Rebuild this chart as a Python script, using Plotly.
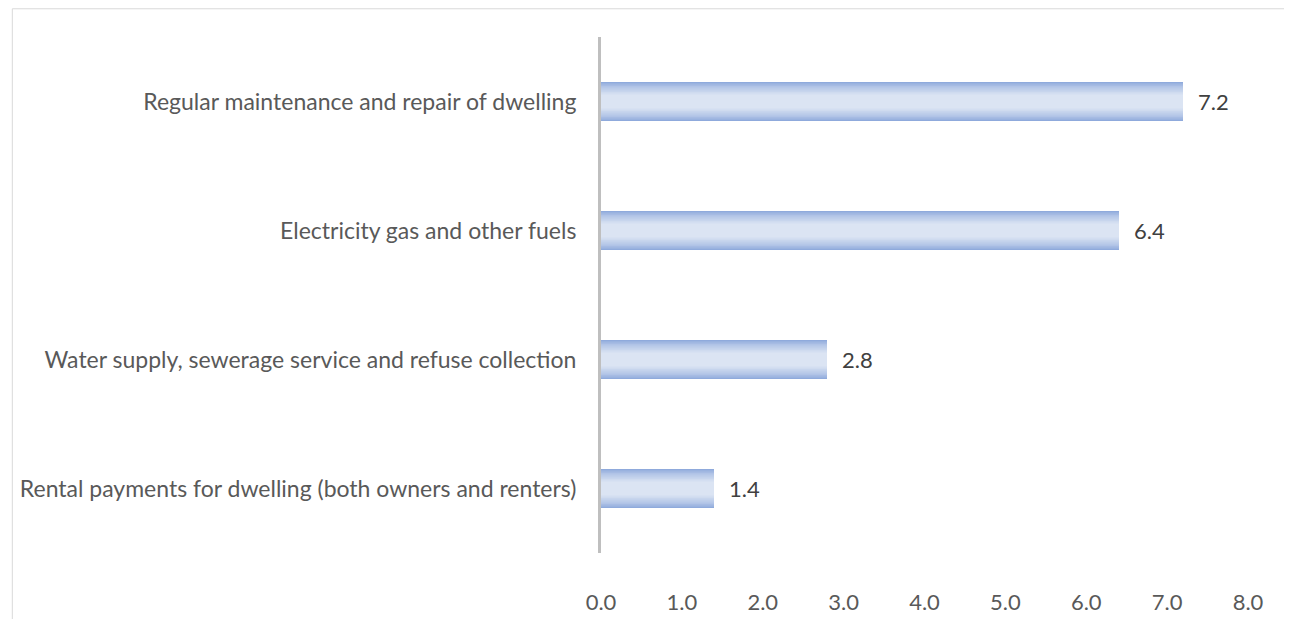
import plotly.graph_objects as go

categories = [
    "Regular maintenance and repair of dwelling",
    "Electricity gas and other fuels",
    "Water supply, sewerage service and refuse collection",
    "Rental payments for dwelling (both owners and renters)",
]
values = [7.2, 6.4, 2.8, 1.4]
x_ticks = [0, 1, 2, 3, 4, 5, 6, 7, 8]
x_tick_labels = ["0.0", "1.0", "2.0", "3.0", "4.0", "5.0", "6.0", "7.0", "8.0"]

# page body has an 8px default margin, so positions are compensated by -8
W, H = 1292, 619
ML, MR, MT, MB = 591, 52, 29, 69
FONT = "Lato"
FS = 22
TXT = "#595959"

fig = go.Figure()

# simulated path gradient: overlaid bars from dark outer edge to light centre
edge = (143, 170, 220)
centre = (219, 228, 243)
n = 16
for i in range(n):
    t = i / (n - 1)
    w = 0.30 - 0.20 * t
    k = t ** 0.75
    c = tuple(round(edge[j] + (centre[j] - edge[j]) * k) for j in range(3))
    fig.add_trace(go.Bar(
        y=categories, x=values, orientation="h", width=w,
        marker=dict(color=f"rgb{c}", line=dict(width=0)),
        hoverinfo="skip" if i else None,
        showlegend=False,
    ))

for cat, v in zip(categories, values):
    fig.add_annotation(x=v, y=cat, xref="x", yref="y", text=f"{v:.1f}",
                       showarrow=False, xanchor="left", xshift=13,
                       font=dict(family=FONT, size=FS, color="#404040"))

# outer chart border
pw = W - ML - MR
ph = H - MT - MB
x0 = (0.5 - ML) / pw
x1 = (1283 - ML) / pw
y1 = 1 - (0.5 - MT) / ph
y0 = 1 - (640 - MT) / ph
fig.add_shape(type="rect", xref="paper", yref="paper", x0=x0, x1=x1, y0=y0, y1=y1,
              line=dict(color="#D9D9D9", width=1), fillcolor="rgba(0,0,0,0)", layer="below")

fig.update_layout(
    width=W, height=H,
    margin=dict(l=ML, r=MR, t=MT, b=MB, pad=0),
    paper_bgcolor="white", plot_bgcolor="white",
    barmode="overlay", bargap=0,
    font=dict(family=FONT, size=FS, color=TXT),
    xaxis=dict(range=[0, 8], tickvals=x_ticks, ticktext=x_tick_labels,
               showgrid=False, zeroline=False, showline=False,
               ticks="", ticklabelstandoff=34,
               tickfont=dict(family=FONT, size=FS, color=TXT)),
    yaxis=dict(autorange="reversed", showgrid=False, zeroline=False,
               showline=True, linecolor="#BFBFBF", linewidth=3,
               ticks="", ticklabelstandoff=17,
               tickfont=dict(family=FONT, size=23, color=TXT)),
)

fig.write_html("out.html")
